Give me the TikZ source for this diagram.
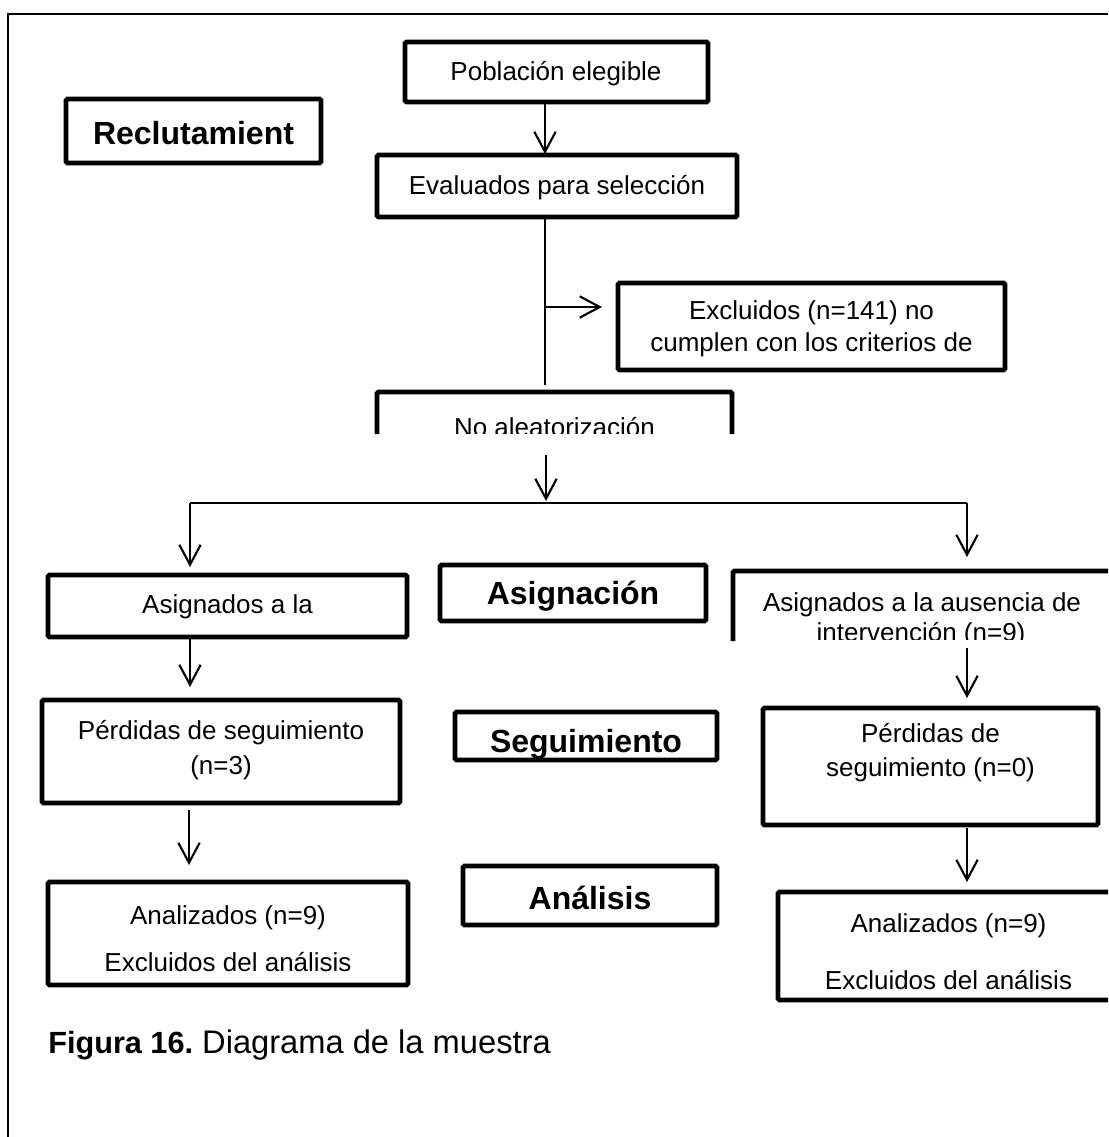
\documentclass[tikz,border=0pt]{standalone}
\usepackage{fontspec}
\setmainfont{Liberation Sans}
\usetikzlibrary{arrows.meta}
\tikzset{
  box/.style={draw, line width=3.6pt, rounded corners=1.2pt, fill=white, inner sep=0pt},
  obox/.style={line width=3.6pt, rounded corners=1.2pt},
  lbl/.style={font=\fontsize{19.5}{23}\selectfont, inner sep=0pt, anchor=base},
  blbl/.style={font=\fontsize{24}{28}\selectfont\bfseries, inner sep=0pt, anchor=base},
  conn/.style={line width=1.6pt},
  arr/.style={conn, -{Straight Barb[length=15pt,width=16pt]}},
  frame/.style={line width=1.5pt},
}
\newcommand\bx[6][box]{\node[#1, minimum width={(#5-#3)*0.75pt}, minimum height={(#6-#4)*0.75pt}] (#2) at ({(#3+#5)/2},{(#4+#6)/2}) {};}
\begin{document}
\begin{tikzpicture}[x=0.75pt,y=-0.75pt]
\useasboundingbox (0,0) rectangle (1108,1137);
\clip (0,0) rectangle (1108,1137);
\fill[white] (0,0) rectangle (1108,1137);
% frame
\draw[frame] (8,1145) -- (8,14) -- (1115,14);

% boxes
\bx{pob}{405}{42}{708}{102}
\node[lbl] (tpob) at (556,81) {Población elegible};
\bx{eval}{377}{155}{737}{217}
\node[lbl] (teval) at (557,195) {Evaluados para selección};
\bx{recl}{66}{99}{321}{163}
\node[blbl] (trecl) at (193.5,145) {Reclutamient};
\bx{excl}{618}{283}{1005}{370}
\node[lbl] (texcl1) at (811.5,320) {Excluidos (n=141) no};
\node[lbl] (texcl2) at (811.5,351) {cumplen con los criterios de};

% No aleatorizacion (open bottom, text cut)
\draw[obox] (377,434) -- (377,392) -- (732,392) -- (732,434);
\coordinate (noal) at (554.5,392);
\begin{scope}
  \clip (370,395) rectangle (740,433);
  \node[lbl] (tnoal) at (554.5,436) {No aleatorización};
\end{scope}

% Asignacion row
\bx{asl}{48}{575}{407}{637}
\node[lbl] (tasl) at (227.5,613) {Asignados a la};
\bx{asg}{440}{565}{706}{621}
\node[blbl] (tasg) at (573,604) {Asignación};
\draw[obox] (733,641) -- (733,571) -- (1115,571) -- (1115,641);
\coordinate (asr) at (922,571);
\node[lbl] (tasr1) at (922,611) {Asignados a la ausencia de};
\begin{scope}
  \clip (736,575) rectangle (1108,639);
  \node[lbl] (tasr2) at (921,641) {intervención (n=9)};
\end{scope}

% Seguimiento row
\bx{pel}{42}{700}{400}{803}
\node[lbl] (tpel1) at (221,739) {Pérdidas de seguimiento};
\node[lbl] (tpel2) at (221,774) {(n=3)};
\node[fill=white, inner sep=0pt, minimum width={262*0.75pt}, minimum height={48*0.75pt}] (segbg) at (586,736) {};
\begin{scope}
  \clip (455,712) rectangle (717,757);
  \node[blbl] (tseg) at (586,752) {Seguimiento};
\end{scope}
\draw[obox] (455,712) rectangle (717,760);
\bx{per}{763}{708}{1098}{825}
\node[lbl] (tper1) at (930.5,742) {Pérdidas de};
\node[lbl] (tper2) at (930.5,776) {seguimiento (n=0)};

% Analisis row
\bx{anl}{48}{882}{408}{985}
\node[lbl] (tanl1) at (228,924) {Analizados (n=9)};
\node[lbl] (tanl2) at (228,971) {Excluidos del análisis};
\bx{ana}{463}{866}{717}{925}
\node[blbl] (tana) at (590,909) {Análisis};
\bx{anr}{778}{892}{1119}{1000}
\node[lbl] (tanr1) at (948.5,932) {Analizados (n=9)};
\node[lbl] (tanr2) at (948.5,989) {Excluidos del análisis};

% connector coordinates
\coordinate (p1) at (545,103);
\coordinate (p2) at (545,154);
\coordinate (p3) at (545,217);
\coordinate (p4) at (545,385);
\coordinate (p5) at (545,307);
\coordinate (p6) at (602,307);
\coordinate (p7) at (546,455);
\coordinate (p8) at (546,501);
\coordinate (hl) at (190,503);
\coordinate (hr) at (967,503);
\coordinate (l1) at (190,567);
\coordinate (r1) at (967,557);
\coordinate (l2) at (190,639);
\coordinate (l3) at (190,687);
\coordinate (r2) at (967,648);
\coordinate (r3) at (967,698);
\coordinate (l4) at (189,810);
\coordinate (l5) at (189,865);
\coordinate (r4) at (967,828);
\coordinate (r5) at (967,882);

\draw[arr] (p1) -- (p2);
\draw[conn] (p3) -- (p4);
\draw[arr] (p5) -- (p6);
\draw[arr] (p7) -- (p8);
\draw[conn] (hl) -- (hr);
\draw[arr] (hl) -- (l1);
\draw[arr] (hr) -- (r1);
\draw[arr] (l2) -- (l3);
\draw[arr] (r2) -- (r3);
\draw[arr] (l4) -- (l5);
\draw[arr] (r4) -- (r5);

% caption
\node[anchor=base west, inner sep=0pt] (cap) at (48,1053) {{\fontsize{23}{28}\selectfont\bfseries Figura 16.}\fontsize{24.5}{28}\selectfont\ Diagrama de la muestra};
\end{tikzpicture}
\end{document}
